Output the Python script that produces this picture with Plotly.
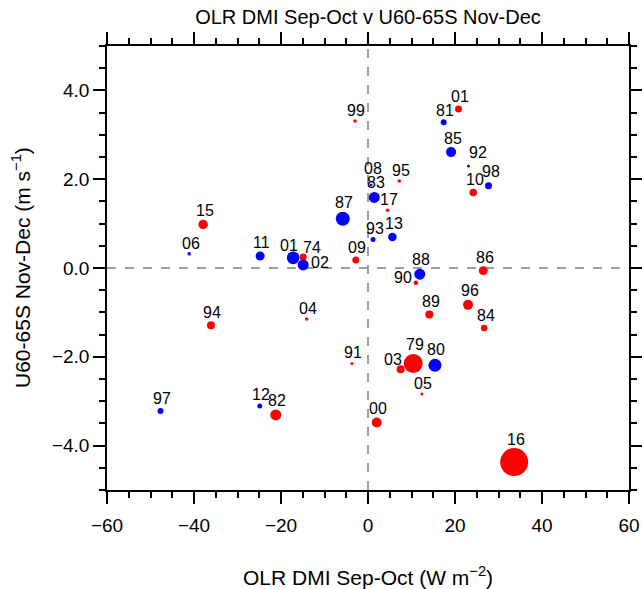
import plotly.graph_objects as go

# ---------------- data ----------------
red_labels = ["01", "99", "10", "95", "17", "09", "74", "86", "15", "94", "04",
              "90", "89", "96", "84", "91", "03", "79", "05", "82", "00", "16"]
red_x = [20.8, -3.0, 24.2, 7.2, 4.5, -2.8, -14.9, 26.5, -37.9, -36.1, -14.1,
         11.0, 14.1, 23.0, 26.7, -3.7, 7.5, 10.4, 12.4, -21.2, 2.0, 33.6]
red_y = [3.58, 3.31, 1.70, 1.96, 1.30, 0.18, 0.25, -0.06, 0.98, -1.29, -1.15,
         -0.33, -1.05, -0.83, -1.35, -2.15, -2.28, -2.15, -2.84, -3.31, -3.48, -4.37]
red_mag = [7, 3.5, 7.5, 3.5, 3.5, 7, 7, 9, 9.5, 8, 3.5,
           4.5, 8, 10, 6.5, 3, 8, 19, 3, 11, 10, 28]

blue_labels = ["81", "85", "92", "98", "08", "83", "87", "93", "13", "01", "02",
               "88", "06", "11", "80", "97", "12"]
blue_x = [17.4, 19.1, 23.1, 27.7, 0.7, 1.45, -5.8, 1.15, 5.6, -17.2, -14.9,
          11.9, -41.1, -24.8, 15.4, -47.7, -24.9]
blue_y = [3.28, 2.61, 2.30, 1.85, 1.87, 1.59, 1.11, 0.64, 0.70, 0.23, 0.07,
          -0.14, 0.32, 0.27, -2.19, -3.22, -3.11]
blue_mag = [6, 10, 3, 7, 3, 11, 14, 5, 8.5, 12.7, 11,
            11, 3.5, 9, 13, 6, 5]

x_ticks = [-60, -40, -20, 0, 20, 40, 60]
y_ticks = [-4.0, -2.0, 0.0, 2.0, 4.0]

# label placement overrides (pixel shifts, dx right, dy up)
label_shift = {
    ("blue", "02"): (16.7, 2),
    ("red", "74"): (8.5, 9),
    ("blue", "01"): (-4.3, 12),
    ("red", "90"): (-12.7, 5.3),
    ("red", "03"): (-8, 9.3),
    ("blue", "92"): (9.7, 13),
    ("blue", "08"): (2.3, 16.5),
    ("blue", "98"): (2.5, 14.5),
}

FONT = "Liberation Sans, Arial, Helvetica, sans-serif"

fig = go.Figure()

annotations = []
for grp, col, labs, xs, ys, mags in [
    ("red", "#ff0000", red_labels, red_x, red_y, red_mag),
    ("blue", "#0000ff", blue_labels, blue_x, blue_y, blue_mag),
]:
    fig.add_trace(go.Scatter(
        x=xs, y=ys, mode="markers",
        marker=dict(color=col, size=mags, opacity=1, line=dict(width=0)),
        opacity=1, showlegend=False, hoverinfo="skip",
    ))
    for lab, xv, yv, m in zip(labs, xs, ys, mags):
        dx, dy = label_shift.get((grp, lab), (1.5, m / 2 + 9))
        annotations.append(dict(
            x=xv, y=yv, xref="x", yref="y", text=lab, showarrow=False,
            xshift=dx, yshift=dy, font=dict(family=FONT, size=16, color="black"),
        ))

# axis titles
annotations.append(dict(
    x=0.5, y=(490 - 576) / 444, xref="paper", yref="paper",
    text="OLR DMI Sep-Oct (W m<sup>\u22122</sup>)", showarrow=False,
    xanchor="center", yanchor="middle",
    font=dict(family=FONT, size=21, color="black"),
))
annotations.append(dict(
    x=(21 - 107) / 522, y=0.5, xref="paper", yref="paper",
    text="U60-65S Nov-Dec (m s<sup>\u22121</sup>)", showarrow=False,
    textangle=-90, xanchor="center", yanchor="middle",
    font=dict(family=FONT, size=21, color="black"),
))

shapes = [
    dict(type="line", xref="x", yref="paper", x0=0, x1=0, y0=0, y1=1,
         line=dict(color="#808080", width=1.5, dash="dash"), layer="below"),
    dict(type="line", xref="paper", yref="y", x0=0, x1=1, y0=0, y1=0,
         line=dict(color="#808080", width=1.5, dash="dash"), layer="below"),
]

axis_common = dict(
    showgrid=False, zeroline=False, showline=True, linecolor="black", linewidth=1.5,
    mirror="ticks", ticks="outside", ticklen=12, tickwidth=1.5, tickcolor="black",
    tickfont=dict(family=FONT, size=19, color="black"), automargin=False,
)

fig.update_layout(
    width=642, height=589,
    margin=dict(l=107, r=13, t=46, b=99),
    paper_bgcolor="white", plot_bgcolor="white",
    title=dict(text="OLR DMI Sep-Oct v U60-65S Nov-Dec", x=0.5 * (107 + 629) / 642,
               xanchor="center", y=1 - 17 / 589, yanchor="middle", yref="container",
               font=dict(family=FONT, size=20, color="black"), automargin=False),
    xaxis=dict(range=[-60, 60], tickvals=x_ticks,
               ticktext=[("\u2212" + str(-v)) if v < 0 else str(v) for v in x_ticks],
               ticklabelstandoff=5,
               minor=dict(dtick=5, tick0=0, ticklen=6, tickwidth=1.5, tickcolor="black", ticks="outside"),
               **axis_common),
    yaxis=dict(range=[-5, 5], tickvals=y_ticks,
               ticktext=[("\u2212" + f"{-v:.1f}") if v < 0 else f"{v:.1f}" for v in y_ticks],
               minor=dict(dtick=0.5, tick0=0, ticklen=6, tickwidth=1.5, tickcolor="black", ticks="outside"),
               **axis_common),
    annotations=annotations,
    shapes=shapes,
)

fig.write_html("out.html")
